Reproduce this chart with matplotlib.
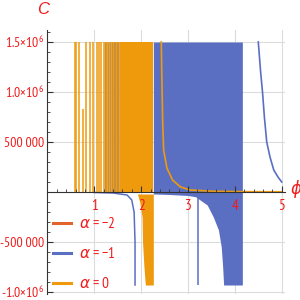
import matplotlib
matplotlib.use('Agg')
import matplotlib.pyplot as plt
from matplotlib.lines import Line2D
from matplotlib.ticker import MultipleLocator, FixedLocator, FuncFormatter

# ── Data ──────────────────────────────────────────────────────────────────
# alpha = 0 (orange): thin spikes rising from the axis
a0_spike_phi = [0.58, 0.60, 0.68, 0.76, 0.83, 0.91, 0.98, 1.05, 1.10, 1.15,
                1.20, 1.24, 1.28, 1.32, 1.36, 1.40, 1.43, 1.46, 1.49, 1.52]
a0_spike_top = [1.5e6, 1.5e6, 1.5e6, 0.83e6, 1.5e6, 1.5e6, 1.5e6, 1.5e6, 1.5e6, 1.5e6,
                1.5e6, 1.5e6, 1.5e6, 1.5e6, 1.5e6, 1.5e6, 1.5e6, 1.5e6, 1.5e6, 1.5e6]
# alpha = 0 dense band (fills solid)
a0_band_phi = [1.55, 2.26]
a0_band_top = [1.5e6, 1.5e6]
# alpha = 0 negative lobe (left edge curve, right edge vertical)
a0_neg_phi = [1.92, 1.97, 2.02, 2.03, 2.06, 2.09, 2.26]
a0_neg_low = [-0.02e6, -0.10e6, -0.25e6, -0.50e6, -0.75e6, -0.93e6, -0.93e6]
# alpha = 0 decaying branch
a0_tail_phi = [2.43, 2.44, 2.46, 2.48, 2.55, 2.67, 2.84, 3.05, 3.5, 4.0, 4.5, 5.0]
a0_tail_C = [1.5e6, 1.2e6, 0.7e6, 0.42e6, 0.24e6, 0.12e6, 0.05e6, 0.02e6,
             0.008e6, 0.004e6, 0.003e6, 0.002e6]

# alpha = -1 (blue): spikes hidden among the orange ones
a1_spike_phi = [1.22, 1.26, 1.30, 1.34, 1.38, 1.42, 1.45, 1.48, 1.51, 1.54]
a1_spike_top = [1.5e6] * 10
# alpha = -1 small negative branch and its asymptote line
a1_negl_phi = [1.00, 1.40, 1.70, 1.80, 1.85, 1.87, 1.87]
a1_negl_C = [-0.005e6, -0.01e6, -0.03e6, -0.08e6, -0.2e6, -0.5e6, -0.93e6]
# alpha = -1 dense band: top and bottom envelope
a1_band_phi = [2.26, 2.6, 3.0, 3.16, 3.41, 3.54, 3.65, 3.71, 3.74, 3.76, 4.16]
a1_band_top = [1.5e6] * 11
a1_band_low = [-0.02e6, -0.025e6, -0.035e6, -0.047e6, -0.13e6, -0.25e6,
               -0.38e6, -0.55e6, -0.75e6, -0.93e6, -0.93e6]
a1_line_phi = 3.22
a1_line_low = -0.93e6
# alpha = -1 decaying branch on the right
a1_tail_phi = [4.50, 4.55, 4.59, 4.63, 4.68, 4.75, 4.83, 4.92, 5.0]
a1_tail_C = [1.5e6, 1.2e6, 1.0e6, 0.75e6, 0.5e6, 0.35e6, 0.22e6, 0.15e6, 0.10e6]

legend_labels = [r'$\alpha\mathregular{=-2}$', r'$\alpha\mathregular{=-1}$',
                 r'$\alpha\mathregular{=0}$']

ytick_vals = [-1.0e6, -5e5, 5e5, 1.0e6, 1.5e6]
xtick_vals = [1, 2, 3, 4, 5]

# ── Style ─────────────────────────────────────────────────────────────────
C_M2 = '#e0642c'
C_M1 = '#5b6fc2'
C_0 = '#ef9a0c'
RED = '#f01c1c'

plt.rcParams['font.family'] = ['PT Sans Narrow', 'DejaVu Sans']
plt.rcParams['mathtext.fontset'] = 'dejavusans'

fig = plt.figure(figsize=(3, 3), dpi=100)
ax = fig.add_axes([0.158, 0.02, 0.792, 0.88])
ax.set_xlim(0, 5.07)
ax.set_ylim(-1.02e6, 1.62e6)

# grid
for xv in xtick_vals:
    ax.axvline(xv, color='#dcdcdc', lw=0.8, zorder=0)
for yv in ytick_vals:
    ax.axhline(yv, color='#dcdcdc', lw=0.8, zorder=0)

# alpha = -1
ax.vlines(a1_spike_phi, 0, a1_spike_top, color=C_M1, lw=1.0, zorder=2)
ax.fill_between(a1_band_phi, a1_band_low, a1_band_top, color=C_M1, lw=0, zorder=2)
ax.plot(a1_negl_phi, a1_negl_C, color=C_M1, lw=1.1, zorder=2)
ax.vlines(a1_line_phi, 0, a1_line_low, color=C_M1, lw=1.1, zorder=2)
ax.plot(a1_tail_phi, a1_tail_C, color=C_M1, lw=1.2, zorder=2)

# alpha = 0
ax.vlines(a0_spike_phi, 0, a0_spike_top, color=C_0, lw=1.1, zorder=3)
ax.fill_between(a0_band_phi, 0, a0_band_top, color=C_0, lw=0, zorder=3)
ax.fill_betweenx(a0_neg_low, a0_neg_phi, a0_band_phi[-1], color=C_0, lw=0, zorder=3)
ax.plot(a0_tail_phi, a0_tail_C, color=C_0, lw=1.2, zorder=3)

# axes through the origin
for s in ['top', 'right']:
    ax.spines[s].set_visible(False)
ax.spines['left'].set_position(('data', 0))
ax.spines['bottom'].set_position(('data', 0))
for s in ['left', 'bottom']:
    ax.spines[s].set_color('#333333')
    ax.spines[s].set_zorder(4)
ax.xaxis.set_zorder(5)
ax.yaxis.set_zorder(5)

ax.xaxis.set_major_locator(FixedLocator(xtick_vals))
ax.xaxis.set_minor_locator(MultipleLocator(0.2))
ax.yaxis.set_major_locator(FixedLocator(ytick_vals))
ax.yaxis.set_minor_locator(MultipleLocator(1e5))


def yfmt(v, pos):
    if abs(v) >= 1e6:
        s = r'$\mathregular{%.1f{\times}10^{6}}$' % abs(v / 1e6)
    else:
        s = '{:,}'.format(int(abs(v))).replace(',', '\u2009')
    return ('-' + s) if v < 0 else s


ax.yaxis.set_major_formatter(FuncFormatter(yfmt))
ax.tick_params(axis='both', which='both', direction='in', color='#333333',
               labelcolor=RED)
ax.tick_params(axis='both', which='major', length=4, width=0.8)
ax.tick_params(axis='both', which='minor', length=2, width=0.6)
ax.tick_params(axis='x', pad=5, labelsize=11)
ax.tick_params(axis='y', pad=2, labelsize=10)

# axis labels
fig.text(43 / 300, 1 - 10 / 300, 'C', color=RED, fontsize=12, style='italic',
         ha='center', va='center', family=['Liberation Sans'])
fig.text(296 / 300, 1 - 189 / 300, '\u03d5', color=RED, fontsize=12,
         style='italic', ha='center', va='center',
         family=['DejaVu Sans'])

# legend
handles = [Line2D([], [], color=c, lw=2.2) for c in (C_M2, C_M1, C_0)]
ax.legend(handles, legend_labels, loc='lower left', frameon=False,
          bbox_to_anchor=(53 / 300, 9 / 300), bbox_transform=fig.transFigure,
          borderpad=0, borderaxespad=0, handlelength=1.2, handletextpad=0.5,
          labelspacing=0.97, fontsize=11, labelcolor=RED)

fig.savefig('out.png', dpi=100)
